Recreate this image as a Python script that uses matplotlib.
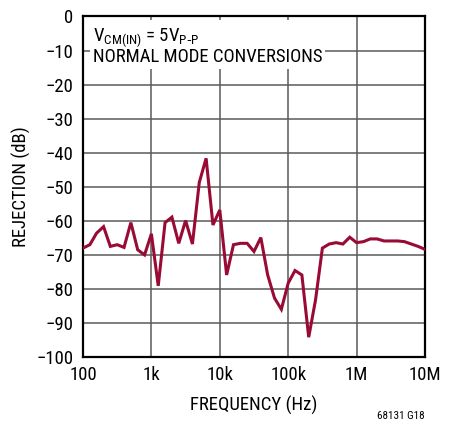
import matplotlib.pyplot as plt
from matplotlib.ticker import FixedLocator, NullLocator

plt.rcParams['font.family'] = ['Roboto Condensed', 'Archivo Narrow', 'DejaVu Sans']

# frequency sweep (Hz), 10 points per decade
freq = [100, 126, 158, 200, 251, 316, 398, 501, 631, 794,
        1000, 1259, 1585, 1995, 2512, 3162, 3981, 5012, 6310, 7943,
        10000, 12589, 15849, 19953, 25119, 31623, 39811, 50119, 63096, 79433,
        100000, 125893, 158489, 199526, 251189, 316228, 398107, 501187, 630957, 794328,
        1000000, 1258925, 1584893, 1995262, 2511886, 3162278, 3981072, 5011872, 6309573, 7943282,
        9800000]
# rejection (dB)
rej = [-68.1, -67.1, -63.7, -61.8, -67.6, -67.1, -67.9, -60.6, -68.6, -70.1,
       -63.9, -79.2, -60.6, -59.0, -66.7, -60.0, -66.9, -48.8, -41.7, -61.3,
       -56.9, -76.0, -67.1, -66.7, -66.7, -69.1, -65.0, -76.0, -82.8, -86.1,
       -78.4, -74.7, -76.0, -94.3, -83.3, -68.1, -66.9, -66.5, -66.9, -64.9,
       -66.5, -66.2, -65.4, -65.4, -66.0, -66.0, -66.0, -66.2, -66.9, -67.6,
       -68.4]

xticks = [1e2, 1e3, 1e4, 1e5, 1e6, 1e7]
xlabels = ['100', '1k', '10k', '100k', '1M', '10M']
yticks = list(range(-100, 1, 10))

fig = plt.figure(figsize=(4.56, 4.23), dpi=100)
ax = fig.add_axes([0.182, 0.157, 0.750, 0.804])

ax.plot(freq, rej, color='#990a34', lw=2.2, solid_joinstyle='miter', zorder=3)

ax.set_xscale('log')
ax.set_xlim(100, 1e7)
ax.set_ylim(-100, 0)
ax.xaxis.set_major_locator(FixedLocator(xticks))
ax.xaxis.set_minor_locator(NullLocator())
ax.set_xticks(xticks, xlabels)
ax.set_yticks(yticks, [('\u2212' + str(-v)) if v < 0 else str(v) for v in yticks])
ax.tick_params(length=0, labelsize=13.5)
ax.tick_params(axis='x', pad=7)
ax.tick_params(axis='y', pad=7)
ax.grid(True, color='#5a5a5a', lw=1.1)

for s in ax.spines.values():
    s.set_linewidth(1.6)
    s.set_color('black')

ax.set_xlabel('FREQUENCY (Hz)', fontsize=13.5, labelpad=8)
ax.set_ylabel('REJECTION (dB)', fontsize=13.5, labelpad=4)

ax.text(0.028, 0.97,
        r'$\mathregular{V_{CM(IN)}}$ = 5V$\mathregular{_{P\text{-}P}}$' + '\nNORMAL MODE CONVERSIONS',
        transform=ax.transAxes, ha='left', va='top', fontsize=13.5, linespacing=0.95,
        bbox=dict(facecolor='white', edgecolor='none', pad=2), zorder=4)

fig.text(0.932, 0.004, '68131 G18', ha='right', va='bottom', fontsize=8)

fig.savefig('out.png', dpi=100)
